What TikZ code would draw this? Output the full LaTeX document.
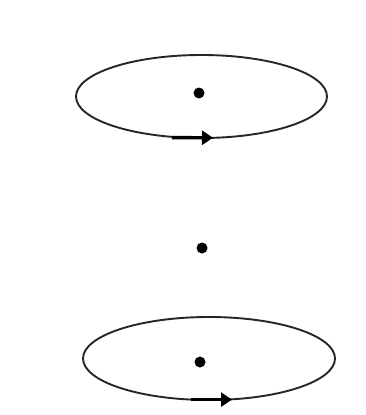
\documentclass[tikz,border=0pt]{standalone}
\usetikzlibrary{arrows.meta}
\begin{document}
\begin{tikzpicture}[x=1pt,y=-1pt,
  loop/.style={draw=black!85,line width=1.9pt},
  dotnode/.style={circle,fill=black,inner sep=0pt,minimum size=11pt},
  flow/.style={draw=black,line width=3.4pt,-{Triangle[length=11pt,width=14pt]}}]
\useasboundingbox (0,0) rectangle (366,415);
% top loop
\draw[loop] (201.5,96.5) ellipse [x radius=125.5, y radius=41.5];
\node[dotnode] (d1) at (199,93) {};
\coordinate (a1s) at (172,137.6);
\coordinate (a1e) at (213,137.8);
\draw[flow] (a1s) -- (a1e);
% middle dot
\node[dotnode] (d2) at (202,248) {};
% bottom loop
\draw[loop] (209,358.5) ellipse [x radius=126, y radius=41.5];
\node[dotnode] (d3) at (200,362) {};
\coordinate (a2s) at (191,399.6);
\coordinate (a2e) at (232,399.6);
\draw[flow] (a2s) -- (a2e);
\end{tikzpicture}
\end{document}
